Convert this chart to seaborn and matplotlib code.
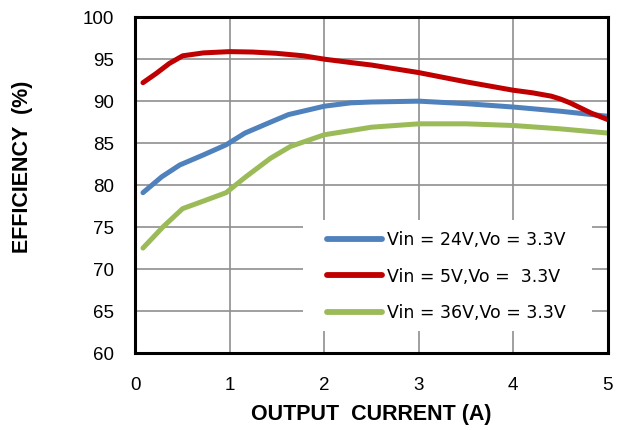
import numpy as np
import pandas as pd
import matplotlib
matplotlib.use('Agg')
import matplotlib.pyplot as plt
from matplotlib.patches import Rectangle
import seaborn as sns

# Data
current_5v = [0.08, 0.22, 0.36, 0.5, 0.72, 1.0, 1.24, 1.49, 1.78, 2.0, 2.28, 2.5,
              3.0, 3.5, 4.0, 4.2, 4.4, 4.5, 4.6, 4.82, 5.0]
eff_5v = [92.2, 93.3, 94.5, 95.4, 95.75, 95.9, 95.85, 95.7, 95.4, 95.0, 94.6, 94.3,
          93.4, 92.3, 91.3, 91.0, 90.6, 90.25, 89.8, 88.6, 87.8]

current_24v = [0.08, 0.28, 0.47, 0.72, 0.96, 1.16, 1.43, 1.62, 2.0, 2.28, 2.5,
               3.0, 3.5, 4.0, 4.5, 5.0]
eff_24v = [79.1, 81.0, 82.4, 83.6, 84.8, 86.2, 87.5, 88.4, 89.4, 89.8, 89.9,
           90.0, 89.7, 89.3, 88.8, 88.2]

current_36v = [0.08, 0.29, 0.5, 0.72, 0.96, 1.17, 1.43, 1.64, 2.0, 2.28, 2.5,
               3.0, 3.5, 4.0, 4.5, 5.0]
eff_36v = [72.5, 75.0, 77.2, 78.1, 79.1, 81.0, 83.2, 84.6, 86.0, 86.5, 86.9,
           87.3, 87.3, 87.1, 86.7, 86.2]

labels = ['Vin = 24V,Vo = 3.3V', 'Vin = 5V,Vo =  3.3V', 'Vin = 36V,Vo = 3.3V']
colors = ['#4F81BD', '#C00000', '#9BBB59']

x_ticks = [0, 1, 2, 3, 4, 5]
y_ticks = [60, 65, 70, 75, 80, 85, 90, 95, 100]

df = pd.concat([
    pd.DataFrame({'current': current_24v, 'eff': eff_24v, 'series': labels[0]}),
    pd.DataFrame({'current': current_5v, 'eff': eff_5v, 'series': labels[1]}),
    pd.DataFrame({'current': current_36v, 'eff': eff_36v, 'series': labels[2]}),
])

sns.set_style('white')
plt.rcParams['font.family'] = ['Liberation Sans', 'DejaVu Sans']
plt.rcParams['text.color'] = 'black'
plt.rcParams['axes.labelcolor'] = 'black'
plt.rcParams['xtick.color'] = 'black'
plt.rcParams['ytick.color'] = 'black'

fig = plt.figure(figsize=(6.24, 4.30), dpi=100)
ax = fig.add_axes([0.217, 0.179, 0.757, 0.781])

sns.lineplot(data=df, x='current', y='eff', hue='series', hue_order=labels,
             palette=colors, linewidth=3.6, sort=False, ax=ax,
             solid_capstyle='round', solid_joinstyle='round', legend=True)

ax.set_xlim(0, 5)
ax.set_ylim(60, 100)
ax.set_xticks(x_ticks)
ax.set_yticks(y_ticks)
ax.tick_params(axis='both', labelsize=13.5, length=0, labelcolor='black')
ax.tick_params(axis='y', pad=15.5)
ax.tick_params(axis='x', pad=17)
ax.grid(True, color='#8f8f8f', linewidth=1.2)
ax.set_axisbelow(True)
for s in ax.spines.values():
    s.set_color('black')
    s.set_linewidth(2.2)
    s.set_zorder(5)

ax.set_xlabel('OUTPUT  CURRENT (A)', fontsize=15.5, fontweight='bold', color='black')
ax.set_ylabel('EFFICIENCY  (%)', fontsize=15.5, fontweight='bold', color='black')
ax.xaxis.set_label_coords(0.5, -0.152)
ax.yaxis.set_label_coords(-0.217, 0.554)

# white legend background box (no border), covers the grid behind it
ax.add_patch(Rectangle((0.354, 0.065), 0.612, 0.331, transform=ax.transAxes,
                       facecolor='white', edgecolor='none', zorder=1.5))

leg = ax.legend(loc='upper left', bbox_to_anchor=(0.405, 0.364), frameon=False,
                handlelength=3.2, handletextpad=0.3, labelspacing=1.08,
                borderpad=0, borderaxespad=0,
                prop={'family': 'DejaVu Sans', 'size': 12.5})
for line in leg.get_lines():
    line.set_linewidth(4.2)
    line.set_solid_capstyle('round')
for t in leg.get_texts():
    t.set_color('black')

fig.savefig('out.png', dpi=100)
